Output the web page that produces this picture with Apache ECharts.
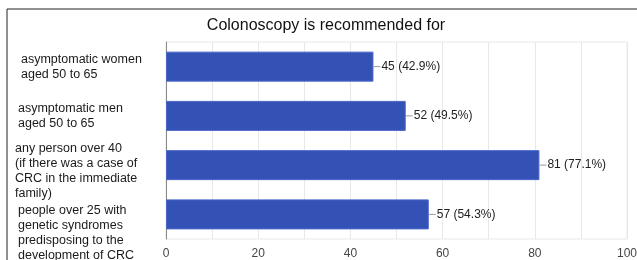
<!DOCTYPE html>
<html>
<head>
<meta charset="utf-8">
<script src="https://cdn.jsdelivr.net/npm/echarts@6/dist/echarts.min.js"></script>
<style>
  html, body { margin: 0; padding: 0; background: #fff; }
  #chart { width: 637px; height: 260px; }
</style>
</head>
<body>
<div id="chart"></div>
<script>
const chartTitle = 'Colonoscopy is recommended for'
const categories = [
  'asymptomatic women\naged 50 to 65',
  'asymptomatic men\naged 50 to 65',
  'any person over 40\n(if there was a case of\nCRC in the immediate\nfamily)',
  'people over 25 with\ngenetic syndromes\npredisposing to the\ndevelopment of CRC'
]
const counts = [45, 52, 81, 57]
const percents = ['42.9%', '49.5%', '77.1%', '54.3%']
// per-label nudges [extra space on top, left indent] so the wrapped labels sit like the original
const labelPads = [[0, 6], [0, 3], [12, 0], [38, 3]]

const labelRich = {}
labelPads.forEach((p, i) => {
  labelRich['s' + i] = { lineHeight: p[0], height: p[0] }
  labelRich['r' + i] = { padding: [0, 0, 0, p[1]], lineHeight: 15 }
})

const chart = echarts.init(document.getElementById('chart'))

chart.setOption({
  animation: false,
  backgroundColor: '#fff',
  title: {
    text: chartTitle,
    left: 321,
    textAlign: 'center',
    top: 13,
    textStyle: { fontFamily: 'Liberation Sans', fontSize: 16, fontWeight: 'normal', color: '#111' }
  },
  graphic: [{
    type: 'polyline',
    shape: { points: [[7, 260], [7, 9], [637, 9]] },
    style: { stroke: '#222', lineWidth: 1, fill: null }
  }],
  grid: {
    left: 166, right: 10, top: 42, bottom: 21,
    containLabel: false, outerBoundsMode: 'none',
    show: true, borderColor: '#e8e8e8', borderWidth: 1
  },
  xAxis: {
    type: 'value',
    min: 0,
    max: 100,
    interval: 10,
    axisLine: { show: false },
    axisTick: { show: false },
    splitLine: { lineStyle: { color: '#e8e8e8' } },
    axisLabel: {
      color: '#444',
      fontFamily: 'Liberation Sans',
      fontSize: 12,
      margin: 9,
      formatter: v => (v % 20 === 0 ? String(v) : '')
    }
  },
  yAxis: {
    type: 'category',
    inverse: true,
    data: categories,
    axisLine: { lineStyle: { color: '#888' } },
    axisTick: { show: false },
    axisLabel: {
      interval: 0,
      hideOverlap: false,
      align: 'left',
      margin: 151,
      color: '#1a1a1a',
      fontFamily: 'Liberation Sans',
      fontSize: 12.5,
      lineHeight: 15,
      formatter: (v, i) => {
        const lines = v.split('\n').map(line => '{r' + i + '|' + line + '}')
        if (labelPads[i][0] > 0) lines.unshift('{s' + i + '| }')
        return lines.join('\n')
      },
      rich: labelRich
    }
  },
  series: [{
    type: 'bar',
    data: counts,
    barWidth: 30,
    itemStyle: { color: '#3451b6', borderColor: '#4a66c8', borderWidth: 1 },
    label: {
      show: true,
      position: 'right',
      distance: 0,
      formatter: p => '{l|}{v|' + p.value + ' (' + percents[p.dataIndex] + ')}',
      rich: {
        l: { width: 7, height: 1, backgroundColor: '#999' },
        v: { color: '#222', fontFamily: 'Liberation Sans', fontSize: 12, padding: [0, 0, 0, 1] }
      }
    }
  }]
})
</script>
</body>
</html>
